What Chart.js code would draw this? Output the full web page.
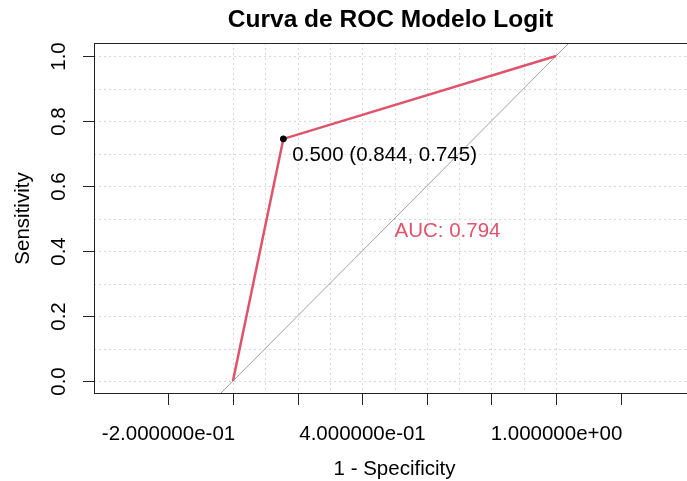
<!DOCTYPE html>
<html>
<head>
<meta charset="utf-8">
<script src="https://cdn.jsdelivr.net/npm/chart.js@4/dist/chart.umd.min.js"></script>
<style>
  html, body { margin: 0; padding: 0; background: #fff; overflow: hidden; }
  #wrap { width: 700px; height: 481px; }
</style>
</head>
<body>
<div id="wrap"><canvas id="c" width="700" height="481"></canvas></div>
<script>
// ---- data ----
const fpr = [0, 0.156, 1];            // 1 - Specificity
const tpr = [0, 0.745, 1];            // Sensitivity
const diagX = [-0.04, 1.04];
const diagY = [-0.04, 1.04];
const thresX = [0.156];
const thresY = [0.745];
const thresLabel = "0.500 (0.844, 0.745)";
const aucLabel = "AUC: 0.794";
const xTicks = [-0.2, 0, 0.2, 0.4, 0.6, 0.8, 1.0, 1.2];
const xTickLabels = ["-2.000000e-01", "", "", "4.000000e-01", "", "", "1.000000e+00", ""];
const yTicks = [0, 0.2, 0.4, 0.6, 0.8, 1.0];
const yTickLabels = ["0.0", "0.2", "0.4", "0.6", "0.8", "1.0"];
const gridX = [0, 0.1, 0.2, 0.3, 0.4, 0.5, 0.6, 0.7, 0.8, 0.9, 1.0];
const gridY = [0, 0.1, 0.2, 0.3, 0.4, 0.5, 0.6, 0.7, 0.8, 0.9, 1.0];
const titleText = "Curva de ROC Modelo Logit";
const xTitle = "1 - Specificity";
const yTitle = "Sensitivity";

const FONT = '"Liberation Sans", Arial, sans-serif';
const RED = '#DF536B';

const gridPlugin = {
  id: 'rgrid',
  beforeDatasetsDraw(chart) {
    const { ctx, chartArea: a, scales: { x, y } } = chart;
    ctx.save();
    ctx.strokeStyle = '#D8D8D8';
    ctx.lineWidth = 1;
    ctx.setLineDash([2, 3]);
    gridX.forEach(v => {
      const px = Math.round(x.getPixelForValue(v)) + 0.5;
      ctx.beginPath(); ctx.moveTo(px, a.top); ctx.lineTo(px, a.bottom); ctx.stroke();
    });
    gridY.forEach(v => {
      const py = Math.round(y.getPixelForValue(v)) + 0.5;
      ctx.beginPath(); ctx.moveTo(a.left, py); ctx.lineTo(a.right, py); ctx.stroke();
    });
    ctx.restore();
  }
};

const axesPlugin = {
  id: 'raxes',
  afterDraw(chart) {
    const { ctx, chartArea: a, scales: { x, y } } = chart;
    ctx.save();
    // box
    ctx.strokeStyle = '#222';
    ctx.lineWidth = 1;
    ctx.setLineDash([]);
    ctx.strokeRect(a.left + 0.5, a.top + 0.5, a.right - a.left, a.bottom - a.top - 1);
    // x ticks
    ctx.fillStyle = '#000';
    ctx.font = '20.5px ' + FONT;
    ctx.textAlign = 'center';
    ctx.textBaseline = 'alphabetic';
    xTicks.forEach((v, i) => {
      const px = Math.round(x.getPixelForValue(v)) + 0.5;
      ctx.beginPath(); ctx.moveTo(px, a.bottom - 1); ctx.lineTo(px, a.bottom + 11); ctx.stroke();
      if (xTickLabels[i]) ctx.fillText(xTickLabels[i], px, 439.5);
    });
    // y ticks
    yTicks.forEach((v, i) => {
      const py = Math.round(y.getPixelForValue(v)) + 0.5;
      ctx.beginPath(); ctx.moveTo(a.left - 11, py); ctx.lineTo(a.left, py); ctx.stroke();
      ctx.save();
      ctx.translate(65, py);
      ctx.rotate(-Math.PI / 2);
      ctx.fillText(yTickLabels[i], 0, 0);
      ctx.restore();
    });
    // axis titles
    ctx.fillText(xTitle, (a.left + a.right) / 2, 475);
    ctx.save();
    ctx.translate(28.5, (a.top + a.bottom) / 2);
    ctx.rotate(-Math.PI / 2);
    ctx.fillText(yTitle, 0, 0);
    ctx.restore();
    // main title
    ctx.font = 'bold 24.5px ' + FONT;
    ctx.fillText(titleText, (a.left + a.right) / 2 - 4, 27);
    // annotations
    ctx.font = '20.5px ' + FONT;
    ctx.textAlign = 'left';
    const tpx = x.getPixelForValue(thresX[0]);
    const tpy = y.getPixelForValue(thresY[0]);
    ctx.fillStyle = '#000';
    ctx.fillText(thresLabel, tpx + 9, tpy + 22);
    ctx.fillStyle = RED;
    ctx.fillText(aucLabel, x.getPixelForValue(0.5), y.getPixelForValue(0.5) + 18.4);
    ctx.restore();
  }
};

new Chart(document.getElementById('c'), {
  type: 'line',
  data: {
    datasets: [
      {
        label: 'identity',
        data: diagX.map((v, i) => ({ x: v, y: diagY[i] })),
        borderColor: '#A0A0A0',
        borderWidth: 1,
        pointRadius: 0,
        tension: 0,
        order: 3
      },
      {
        label: 'ROC',
        data: fpr.map((v, i) => ({ x: v, y: tpr[i] })),
        borderColor: RED,
        borderWidth: 2.5,
        pointRadius: 0,
        tension: 0,
        order: 2
      },
      {
        type: 'scatter',
        label: 'threshold',
        data: thresX.map((v, i) => ({ x: v, y: thresY[i] })),
        backgroundColor: '#000',
        borderColor: '#000',
        pointRadius: 3,
        order: 1
      }
    ]
  },
  options: {
    responsive: false,
    animation: false,
    devicePixelRatio: 1,
    layout: { padding: { left: 94, right: 3, top: 43, bottom: 87 } },
    plugins: { legend: { display: false }, title: { display: false }, tooltip: { enabled: false } },
    scales: {
      x: { type: 'linear', min: -0.43, max: 1.43, display: false },
      y: { type: 'linear', min: -0.04, max: 1.04, display: false }
    }
  },
  plugins: [gridPlugin, axesPlugin]
});
</script>
</body>
</html>
